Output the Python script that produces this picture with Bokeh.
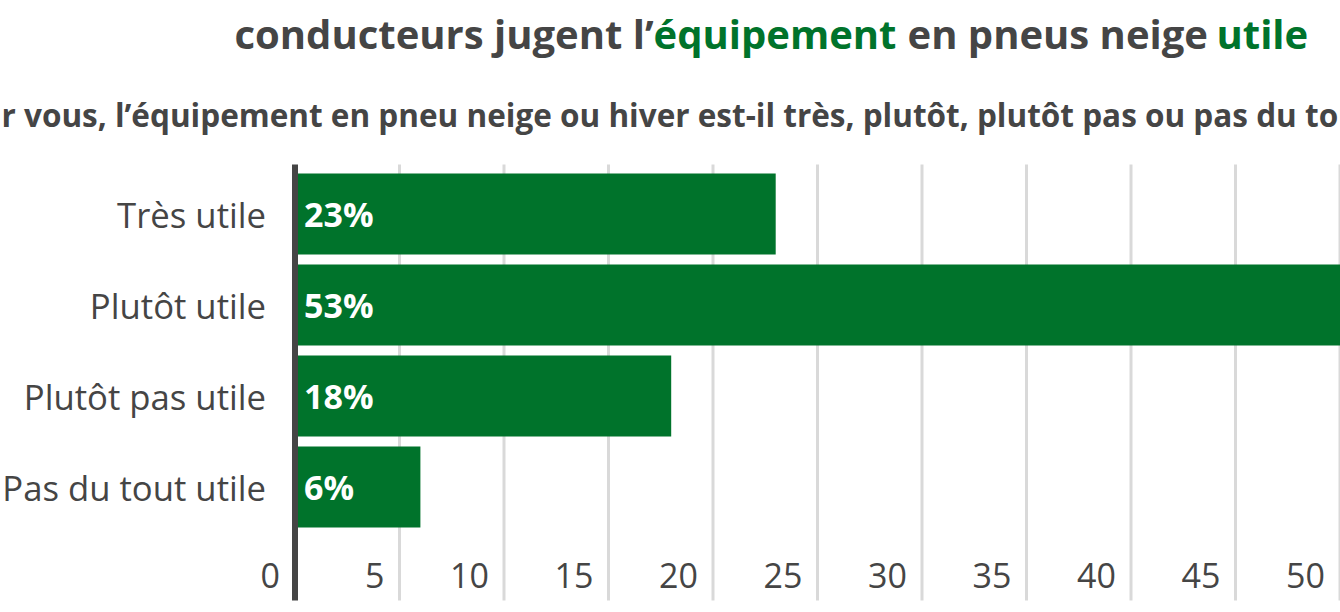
from bokeh.plotting import figure
from bokeh.models import Range1d, ColumnDataSource, Label
from bokeh.core.properties import value
from bokeh.embed import file_html
from bokeh.resources import INLINE

# ---- data ----
categories = ["Très utile", "Plutôt utile", "Plutôt pas utile", "Pas du tout utile"]
values = [23, 53, 18, 6]
value_labels = ["23%", "53%", "18%", "6%"]
ticks = [0, 5, 10, 15, 20, 25, 30, 35, 40, 45, 50]
tick_labels = ["0", "5", "10", "15", "20", "25", "30", "35", "40", "45", "50"]

title_parts = ["conducteurs jugent l’", "équipement", " en pneus neige ", "utile"]
title_hl = [False, True, False, True]
subtitle = "Pour vous, l’équipement en pneu neige ou hiver est-il très, plutôt, plutôt pas ou pas du tout utile ?"

# ---- style ----
GREEN = "#00732b"
DARK = "#454545"
GRID = "#d9d9d9"
FONT = "Open Sans"

W, H = 1340, 612
PX_PER_UNIT = 20.9
ZERO_X = 294.5
ROW = 91.0
FIRST_ROW_Y = 213.5
FRAME_TOP, FRAME_BOTTOM = 164, 600

x0 = -ZERO_X / PX_PER_UNIT
x1 = (W - ZERO_X) / PX_PER_UNIT
y_top = -FIRST_ROW_Y / ROW
y_bot = (H - FIRST_ROW_Y) / ROW

p = figure(width=W, height=H, x_range=Range1d(x0, x1), y_range=Range1d(y_bot, y_top),
           output_backend="svg", toolbar_location=None, x_axis_type=None, y_axis_type=None,
           min_border=0, outline_line_color=None, background_fill_color="white",
           border_fill_color="white")
p.grid.visible = False

gy0 = (FRAME_TOP - FIRST_ROW_Y) / ROW
gy1 = (FRAME_BOTTOM - FIRST_ROW_Y) / ROW

idx = list(range(len(categories)))

# gridlines (not at zero)
grid_src = ColumnDataSource(dict(x=ticks[1:], y0=[gy0] * (len(ticks) - 1), y1=[gy1] * (len(ticks) - 1)))
p.segment(x0="x", y0="y0", x1="x", y1="y1", source=grid_src, line_color=GRID, line_width=3)

# bars
bar_src = ColumnDataSource(dict(y=idx, right=values, cat=categories, lab=value_labels,
                                zero=[0] * len(values)))
p.hbar(y="y", left="zero", right="right", height=81 / ROW, source=bar_src,
       fill_color=GREEN, line_color=None)

# zero axis line
p.segment(x0=[ticks[0]], y0=[gy0], x1=[ticks[0]], y1=[gy1], line_color=DARK, line_width=6)

# category labels
p.text(x="zero", y="y", text="cat", source=bar_src, text_align="right", text_baseline="middle",
       x_offset=-29, text_font=value(FONT), text_font_size="34.7px", text_color=DARK)

# value labels in bars
p.text(x="zero", y="y", text="lab", source=bar_src, text_align="left", text_baseline="middle",
       x_offset=9, text_font=value(FONT), text_font_size="34px", text_font_style="bold",
       text_color="white")

# tick labels (in an extra row under the bars)
tick_src = ColumnDataSource(dict(x=ticks, y=[len(categories)] * len(ticks), t=tick_labels))
p.text(x="x", y="y", text="t", source=tick_src, text_align="right", text_baseline="middle",
       x_offset=-15, y_offset=-3, text_font=value(FONT), text_font_size="34px", text_color=DARK)

# title (mixed colours)
title_x = [234, 653, 907, 1216]
for txt, hl, tx in zip(title_parts, title_hl, title_x):
    p.add_layout(Label(x=tx, y=H - 33, x_units="screen", y_units="screen", text=txt,
                       text_font=FONT, text_font_size="40px", text_font_style="bold",
                       text_color=GREEN if hl else DARK, text_baseline="alphabetic",
                       text_align="left"))

# subtitle
p.add_layout(Label(x=-59, y=H - 114, x_units="screen", y_units="screen", text=subtitle,
                   text_font=FONT, text_font_size="31.5px", text_font_style="bold",
                   text_color=DARK, text_baseline="alphabetic", text_align="left"))

open("out.html", "w").write(file_html(p, INLINE))
